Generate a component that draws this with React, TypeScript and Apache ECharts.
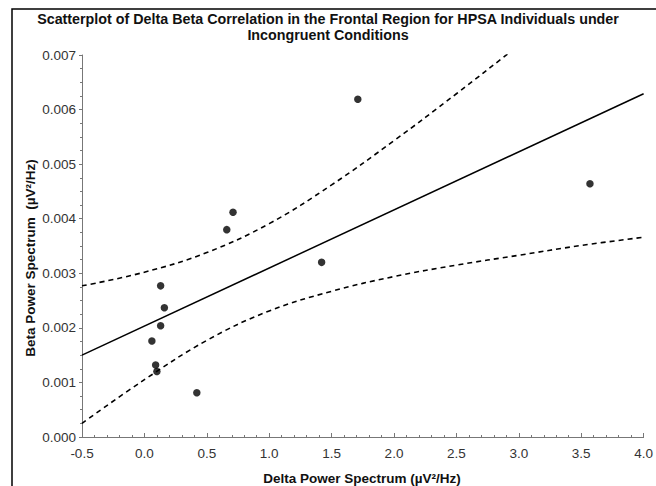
import React, { useEffect, useRef } from "react";
import * as echarts from "echarts";

// Observed delta / beta power per participant
const deltaPower = [0.13, 0.16, 0.13, 0.06, 0.09, 0.1, 0.42, 0.66, 0.71, 1.42, 1.71, 3.57];
const betaPower = [0.00277, 0.00237, 0.00204, 0.00176, 0.00132, 0.0012, 0.00081, 0.0038, 0.00412, 0.0032, 0.00619, 0.00464];

// Regression line end points
const fitX = [-0.5, 4.0];
const fitY = [0.0015, 0.00629];

// 95% confidence band
const bandX = [-0.5, 0, 0.5, 1.0, 1.5, 2.0, 2.5, 3.0, 3.5, 4.0];
const bandUpper = [0.00277, 0.00302, 0.00338, 0.00391, 0.00462, 0.00543, 0.00629, 0.00718, 0.00808, 0.00899];
const bandLower = [0.00025, 0.00105, 0.00177, 0.00231, 0.00267, 0.00294, 0.00315, 0.00333, 0.00351, 0.00366];

const xTicks = { min: -0.5, max: 4.0, step: 0.5 };
const yTicks = { min: 0, max: 0.007, step: 0.001 };

const titleText =
  "Scatterplot of Delta Beta Correlation in the Frontal Region for HPSA Individuals under\nIncongruent Conditions";
const xName = "Delta Power Spectrum (\u00b5V\u00b2/Hz)";
const yName = "Beta Power Spectrum  (\u00b5V\u00b2/Hz)";

const FONT = "'Liberation Sans', Arial, Helvetica, sans-serif";

export default function App() {
  const ref = useRef<HTMLDivElement>(null);

  useEffect(() => {
    if (!ref.current) return;
    const chart = echarts.init(ref.current, undefined, { renderer: "svg" });

    const pair = (xs: number[], ys: number[]) => xs.map((x, i) => [x, ys[i]]);

    chart.setOption({
      animation: false,
      backgroundColor: "#ffffff",
      title: {
        text: titleText,
        left: "center",
        top: 6,
        textStyle: {
          fontFamily: FONT,
          fontWeight: "bold",
          fontSize: 14.3,
          lineHeight: 16,
          color: "#111",
        },
      },
      grid: { left: 82, right: 10, top: 55, bottom: 49 },
      xAxis: {
        type: "value",
        min: xTicks.min,
        max: xTicks.max,
        interval: xTicks.step,
        axisLine: { show: true, onZero: false, lineStyle: { color: "#777", width: 1 } },
        axisTick: { show: true, inside: true, length: 4, lineStyle: { color: "#777" } },
        minorTick: { show: true, splitNumber: 5, length: 2, lineStyle: { color: "#777" } },
        splitLine: { show: false },
        axisLabel: {
          fontFamily: FONT,
          fontSize: 13.5,
          color: "#333",
          margin: 9,
          formatter: (v: number) => v.toFixed(1),
        },
      },
      yAxis: {
        type: "value",
        min: yTicks.min,
        max: yTicks.max,
        interval: yTicks.step,
        axisLine: { show: true, onZero: false, lineStyle: { color: "#777", width: 1 } },
        axisTick: { show: true, inside: false, length: 3, lineStyle: { color: "#777" } },
        minorTick: { show: true, splitNumber: 4, length: 2, lineStyle: { color: "#777" } },
        splitLine: { show: false },
        axisLabel: {
          fontFamily: FONT,
          fontSize: 13.5,
          color: "#333",
          margin: 6,
          formatter: (v: number) => v.toFixed(3),
        },
      },
      graphic: [
        {
          type: "rect",
          shape: { x: 12, y: 9, width: 700, height: 600 },
          style: { fill: "none", stroke: "#000", lineWidth: 1.5 },
          silent: true,
        },
        {
          type: "text",
          x: 30,
          y: 258,
          rotation: Math.PI / 2,
          style: {
            text: yName,
            fontFamily: FONT,
            fontWeight: "bold",
            fontSize: 13.5,
            fill: "#111",
            textAlign: "center",
            textVerticalAlign: "middle",
          },
        },
        {
          type: "text",
          x: 362,
          y: 478,
          style: {
            text: xName,
            fontFamily: FONT,
            fontWeight: "bold",
            fontSize: 13.5,
            fill: "#111",
            textAlign: "center",
            textVerticalAlign: "middle",
          },
        },
      ],
      series: [
        {
          type: "line",
          data: pair(bandX, bandUpper),
          smooth: 0.4,
          showSymbol: false,
          clip: true,
          lineStyle: { color: "#000", width: 1.6, type: [5, 4] },
          z: 2,
        },
        {
          type: "line",
          data: pair(bandX, bandLower),
          smooth: 0.4,
          showSymbol: false,
          clip: true,
          lineStyle: { color: "#000", width: 1.6, type: [5, 4] },
          z: 2,
        },
        {
          type: "line",
          data: pair(fitX, fitY),
          showSymbol: false,
          clip: true,
          lineStyle: { color: "#000", width: 1.5 },
          z: 3,
        },
        {
          type: "scatter",
          data: pair(deltaPower, betaPower),
          symbol: "circle",
          symbolSize: 7.5,
          itemStyle: { color: "#000" },
          z: 4,
        },
      ],
    });

    return () => chart.dispose();
  }, []);

  return (
    <div
      ref={ref}
      style={{ position: "fixed", left: 0, top: 0, width: 656, height: 486 }}
    />
  );
}
